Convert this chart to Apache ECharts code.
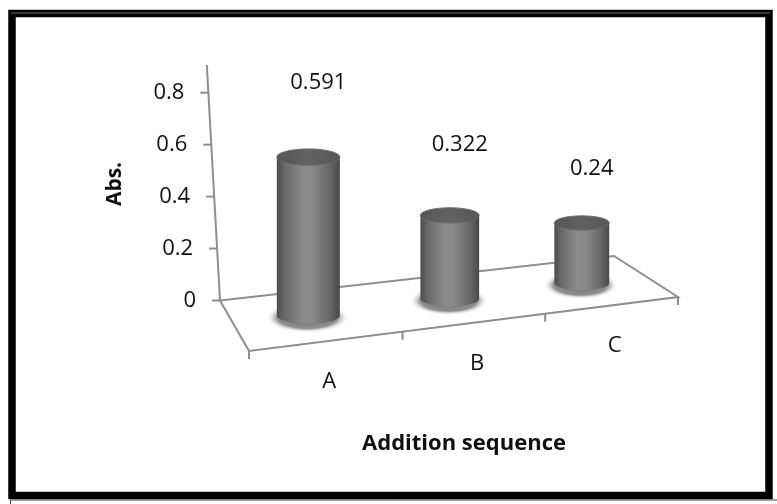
<!DOCTYPE html>
<html>
<head>
<meta charset="utf-8">
<script src="https://cdn.jsdelivr.net/npm/echarts@6/dist/echarts.min.js"></script>
<style>
  html, body { margin: 0; padding: 0; background: #ffffff; }
  #chart { width: 777px; height: 504px; }
</style>
</head>
<body>
<div id="chart"></div>
<script>
// ---- data ----
const categories = ['A', 'B', 'C'];
const absValues = [0.591, 0.322, 0.24];
const tickValues = [0, 0.2, 0.4, 0.6, 0.8];
const tickLabels = ['0', '0.2', '0.4', '0.6', '0.8'];
const yAxisTitle = 'Abs.';
const xAxisTitle = 'Addition sequence';

// ---- view / style ----
const FONT_FAMILY = '"Open Sans", "Noto Sans", sans-serif';
const TEXT_COLOR = '#101010';
const LINE_COLOR = '#8e8e8e';
const GRID = { left: 220, right: 163, top: 92.7, bottom: 203.5 };
const AXIS_MAX = 0.8;
const PX_PER_UNIT = (504 - GRID.top - GRID.bottom) / AXIS_MAX;
const FLOOR = { backRise: 44.5, rightDepth: [64, 41], leftDepth: [29, 50.5] };
const AXIS_SLANT = 0.056;       // horizontal lean of the wall edge per px of height
const AXIS_OVERSHOOT = 27.7;    // wall edge continues above the last tick
const TICK_LEN = 8;
const BAR_DEPTH = 0.5;          // cylinders stand halfway into the floor
const BAR_FILL = 0.43;          // cylinder diameter / category width
const CAP_RATIO = 0.26;         // ellipse squash of cylinder caps
const LABEL_RAISE = [74, 71, 54];
const CAT_LABEL_DROP = 41;
const LABEL_SIZE = 22;

// projective map of the unit square (u along categories, v back->front) onto the floor quad
function makeHomography(p0, p1, p2, p3) {
  const dx1 = p1[0] - p2[0], dx2 = p3[0] - p2[0], dx3 = p0[0] - p1[0] + p2[0] - p3[0];
  const dy1 = p1[1] - p2[1], dy2 = p3[1] - p2[1], dy3 = p0[1] - p1[1] + p2[1] - p3[1];
  const den = dx1 * dy2 - dx2 * dy1;
  const g = (dx3 * dy2 - dx2 * dy3) / den;
  const h = (dx1 * dy3 - dx3 * dy1) / den;
  const a = p1[0] - p0[0] + g * p1[0], b = p3[0] - p0[0] + h * p3[0], c = p0[0];
  const d = p1[1] - p0[1] + g * p1[1], e = p3[1] - p0[1] + h * p3[1], f = p0[1];
  return function (u, v) {
    const w = g * u + h * v + 1;
    return [(a * u + b * v + c) / w, (d * u + e * v + f) / w, w];
  };
}

function floorCorners(cs) {
  const y0 = cs.y + cs.height;
  const BL = [cs.x, y0];
  const BR = [cs.x + cs.width, y0 - FLOOR.backRise];
  const FR = [BR[0] + FLOOR.rightDepth[0], BR[1] + FLOOR.rightDepth[1]];
  const FL = [BL[0] + FLOOR.leftDepth[0], BL[1] + FLOOR.leftDepth[1]];
  return { BL, BR, FR, FL };
}

function floorMap(cs) {
  const q = floorCorners(cs);
  return makeHomography(q.BL, q.BR, q.FR, q.FL);
}

function ellipsePoints(cx, cy, rx, ry, a0, a1, n) {
  const pts = [];
  for (let k = 0; k <= n; k++) {
    const t = a0 + (a1 - a0) * k / n;
    pts.push([cx + rx * Math.cos(t), cy + ry * Math.sin(t)]);
  }
  return pts;
}

// floor, wall edge, ticks and category names
function renderFloor(params, api) {
  const cs = params.coordSys;
  const q = floorCorners(cs);
  const H = floorMap(cs);
  const n = categories.length;
  const y0 = api.coord([0, 0])[1];
  const edgeX = (y) => q.BL[0] - (y0 - y) * AXIS_SLANT;
  const children = [];
  const lineStyle = { stroke: LINE_COLOR, lineWidth: 2, fill: null };

  children.push({
    type: 'polygon',
    shape: { points: [q.BL, q.BR, q.FR, q.FL] },
    style: lineStyle
  });
  const topY = api.coord([0, AXIS_MAX])[1] - AXIS_OVERSHOOT;
  children.push({
    type: 'line',
    shape: { x1: edgeX(y0), y1: y0, x2: edgeX(topY), y2: topY },
    style: lineStyle
  });
  tickValues.forEach(function (t) {
    const y = api.coord([0, t])[1];
    const x = edgeX(y);
    children.push({
      type: 'line',
      shape: { x1: x - TICK_LEN, y1: y, x2: x, y2: y },
      style: lineStyle
    });
  });
  for (let k = 0; k <= n; k++) {
    const p = H(k / n, 1);
    children.push({
      type: 'line',
      shape: { x1: p[0], y1: p[1], x2: p[0], y2: p[1] + TICK_LEN },
      style: lineStyle
    });
  }
  categories.forEach(function (name, i) {
    const bx = api.coord([i, 0])[0];
    const p = H((bx - cs.x) / cs.width, 1);
    children.push({
      type: 'text',
      x: p[0] + 2,
      y: p[1] + CAT_LABEL_DROP,
      style: {
        text: name, fill: TEXT_COLOR,
        font: LABEL_SIZE + 'px ' + FONT_FAMILY,
        align: 'center', verticalAlign: 'middle'
      }
    });
  });
  return { type: 'group', children: children };
}

// one shaded cylinder with its value label
function renderCylinder(params, api) {
  const cs = params.coordSys;
  const H = floorMap(cs);
  const i = api.value(0);
  const v = api.value(1);
  const base = api.coord([i, 0]);
  const u = (base[0] - cs.x) / cs.width;
  const du = BAR_FILL * api.size([1, 0])[0] / 2 / cs.width;
  const c = H(u, BAR_DEPTH);
  const rx = (H(u + du, BAR_DEPTH)[0] - H(u - du, BAR_DEPTH)[0]) / 2;
  const ry = rx * CAP_RATIO;
  const h = (base[1] - api.coord([i, v])[1]) / c[2];
  const cx = c[0], by = c[1], ty = by - h;

  const bodyPts = [[cx - rx, ty]]
    .concat(ellipsePoints(cx, by, rx, ry, Math.PI, 0, 40))
    .concat([[cx + rx, ty]]);

  const shadowR = rx + 10;
  return {
    type: 'group',
    children: [
      {
        type: 'circle',
        shape: { cx: cx - 1, cy: by + 2, r: shadowR },
        scaleY: (ry + 7) / shadowR,
        originX: cx - 1, originY: by + 2,
        style: {
          fill: new echarts.graphic.RadialGradient(0.5, 0.5, 0.5, [
            { offset: 0, color: 'rgba(70,70,70,0.8)' },
            { offset: 0.72, color: 'rgba(95,95,95,0.7)' },
            { offset: 1, color: 'rgba(255,255,255,0)' }
          ])
        }
      },
      {
        type: 'polygon',
        shape: { points: bodyPts },
        style: {
          fill: new echarts.graphic.LinearGradient(0, 0, 1, 0, [
            { offset: 0, color: '#4c4c4c' },
            { offset: 0.12, color: '#686868' },
            { offset: 0.42, color: '#8c8c8c' },
            { offset: 0.58, color: '#888888' },
            { offset: 0.85, color: '#666666' },
            { offset: 1, color: '#484848' }
          ])
        }
      },
      {
        type: 'polygon',
        shape: { points: ellipsePoints(cx, ty, rx, ry, 0, Math.PI * 2, 60) },
        style: {
          fill: new echarts.graphic.LinearGradient(0, 0, 1, 0, [
            { offset: 0, color: '#555555' },
            { offset: 0.5, color: '#626262' },
            { offset: 1, color: '#565656' }
          ]),
          stroke: '#6c6c6c', lineWidth: 1
        }
      },
      {
        type: 'text',
        x: cx + 10,
        y: ty - LABEL_RAISE[i],
        style: {
          text: String(v), fill: TEXT_COLOR,
          font: LABEL_SIZE + 'px ' + FONT_FAMILY,
          align: 'center', verticalAlign: 'middle'
        }
      }
    ]
  };
}

// tick labels lean with the wall edge
const tickRich = {};
tickValues.forEach(function (t, k) {
  tickRich['t' + k] = {
    padding: [0, t * PX_PER_UNIT * AXIS_SLANT, 0, 0],
    fontSize: LABEL_SIZE, fontFamily: FONT_FAMILY, color: TEXT_COLOR
  };
});

const chart = echarts.init(document.getElementById('chart'), null, { renderer: 'canvas' });
chart.setOption({
  animation: false,
  backgroundColor: '#ffffff',
  grid: { left: GRID.left, right: GRID.right, top: GRID.top, bottom: GRID.bottom, containLabel: false },
  xAxis: {
    type: 'category',
    data: categories,
    show: false
  },
  yAxis: {
    type: 'value',
    min: 0, max: AXIS_MAX, interval: 0.2,
    axisLine: { show: false },
    axisTick: { show: false },
    splitLine: { show: false },
    axisLabel: {
      margin: 24,
      fontSize: LABEL_SIZE, fontFamily: FONT_FAMILY, color: TEXT_COLOR,
      formatter: function (val) {
        const k = tickValues.findIndex(function (t) { return Math.abs(t - val) < 1e-9; });
        return k < 0 ? '' : '{t' + k + '|' + tickLabels[k] + '}';
      },
      rich: tickRich
    }
  },
  graphic: [
    {
      type: 'rect',
      shape: { x: 12, y: 13.5, width: 757, height: 482 },
      style: { fill: null, stroke: '#000000', lineWidth: 7.5 }
    },
    {
      type: 'line',
      shape: { x1: 11, y1: 13, x2: 770, y2: 13 },
      style: { stroke: '#4a4a4a', lineWidth: 1.5 }
    },
    {
      type: 'polyline',
      shape: { points: [[10.5, 504], [10.5, 500], [777, 500]] },
      style: { stroke: '#444444', lineWidth: 1, fill: null }
    },
    {
      type: 'text',
      x: 115, y: 184,
      rotation: Math.PI / 2,
      style: {
        text: yAxisTitle, fill: TEXT_COLOR,
        font: 'bold 21px ' + FONT_FAMILY,
        align: 'center', verticalAlign: 'middle',
        textAlign: 'center', textVerticalAlign: 'middle'
      }
    },
    {
      type: 'text',
      x: 464, y: 444,
      style: {
        text: xAxisTitle, fill: TEXT_COLOR,
        font: 'bold 22px ' + FONT_FAMILY,
        align: 'center', verticalAlign: 'middle',
        textAlign: 'center', textVerticalAlign: 'middle'
      }
    }
  ],
  series: [
    {
      type: 'custom',
      name: 'floor',
      silent: true,
      z: 1,
      renderItem: renderFloor,
      data: [[0, 0]]
    },
    {
      type: 'custom',
      name: 'Abs.',
      z: 2,
      renderItem: renderCylinder,
      encode: { x: 0, y: 1 },
      data: absValues.map(function (v, i) { return [i, v]; })
    }
  ]
});
</script>
</body>
</html>
